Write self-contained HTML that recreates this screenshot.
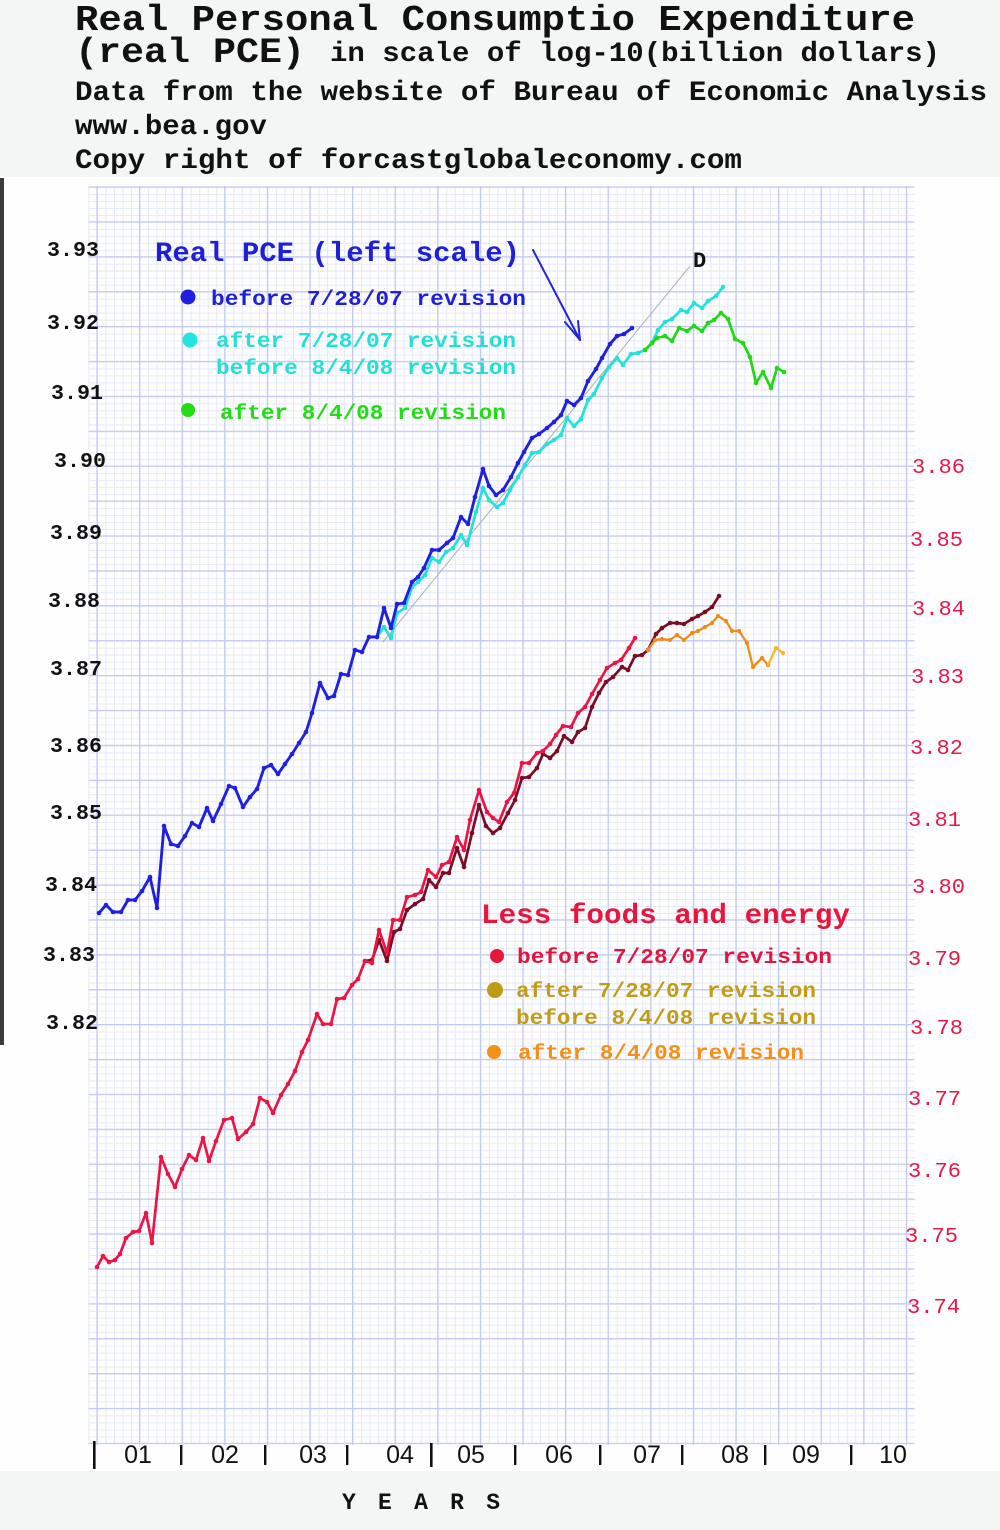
<!DOCTYPE html>
<html><head><meta charset="utf-8"><style>
html,body{margin:0;padding:0;background:#f3f6f5;}
svg{display:block;}
.mono{font-family:"Liberation Mono","Courier New",monospace;}
.sans{font-family:"Liberation Sans",Arial,sans-serif;}
</style></head><body>
<svg width="1000" height="1530" viewBox="0 0 1000 1530" xmlns="http://www.w3.org/2000/svg">
<defs>
<pattern id="minor" patternUnits="userSpaceOnUse" x="97" y="187" width="8.52" height="6.98">
<rect x="0" y="0" width="0.9" height="6.98" fill="#e4e8f8"/>
<rect x="0" y="0" width="8.52" height="0.9" fill="#e4e8f8"/>
</pattern>
<pattern id="major" patternUnits="userSpaceOnUse" x="96.4" y="186.4" width="42.6" height="34.9">
<rect x="0" y="0" width="1.2" height="34.9" fill="#c2c9f0"/>
<rect x="0" y="0" width="42.6" height="1.2" fill="#c2c9f0"/>
</pattern>
<marker id="mBlue" markerUnits="userSpaceOnUse" markerWidth="6" markerHeight="6" refX="3" refY="3"><circle cx="3" cy="3" r="2.3" fill="#2020e0"/></marker>
<marker id="mCyan" markerUnits="userSpaceOnUse" markerWidth="6" markerHeight="6" refX="3" refY="3"><circle cx="3" cy="3" r="2.3" fill="#22e2da"/></marker>
<marker id="mGreen" markerUnits="userSpaceOnUse" markerWidth="6" markerHeight="6" refX="3" refY="3"><circle cx="3" cy="3" r="2.3" fill="#22d815"/></marker>
<marker id="mRed" markerUnits="userSpaceOnUse" markerWidth="6" markerHeight="6" refX="3" refY="3"><circle cx="3" cy="3" r="2.3" fill="#ec1443"/></marker>
<marker id="mDark" markerUnits="userSpaceOnUse" markerWidth="6" markerHeight="6" refX="3" refY="3"><circle cx="3" cy="3" r="2.3" fill="#7a0c24"/></marker>
<marker id="mOrange" markerUnits="userSpaceOnUse" markerWidth="6" markerHeight="6" refX="3" refY="3"><circle cx="3" cy="3" r="2.1" fill="#f08c1a"/></marker>
<marker id="mYellow" markerUnits="userSpaceOnUse" markerWidth="6" markerHeight="6" refX="3" refY="3"><circle cx="3" cy="3" r="2.1" fill="#f4b820"/></marker>
</defs>
<rect x="0" y="0" width="1000" height="1530" fill="#f3f6f5"/>
<rect x="0" y="177" width="1000" height="1294" fill="#fefefe"/>
<rect x="0" y="178" width="4" height="867" fill="#3c3c3c"/>
<rect x="88.4" y="186.5" width="826" height="1257.5" fill="url(#minor)"/>
<rect x="88.4" y="186" width="826" height="1259" fill="url(#major)"/>

<!-- header -->
<g class="mono" font-weight="bold" fill="#111">
<text x="75" y="30" font-size="36" textLength="840" lengthAdjust="spacingAndGlyphs">Real Personal Consumptio Expenditure</text>
<text x="75" y="62" font-size="35" textLength="230" lengthAdjust="spacingAndGlyphs">(real PCE)</text>
<text x="330" y="61" font-size="28" textLength="610" lengthAdjust="spacingAndGlyphs">in scale of log-10(billion dollars)</text>
<text x="75" y="100" font-size="28" textLength="912" lengthAdjust="spacingAndGlyphs">Data from the website of Bureau of Economic Analysis</text>
<text x="75" y="134" font-size="28" textLength="192" lengthAdjust="spacingAndGlyphs">www.bea.gov</text>
<text x="75" y="168" font-size="28" textLength="667" lengthAdjust="spacingAndGlyphs">Copy right of forcastglobaleconomy.com</text>
</g>

<!-- left axis -->
<g class="mono" font-weight="bold" fill="#111" font-size="21">
<text x="47" y="256" textLength="52" lengthAdjust="spacingAndGlyphs">3.93</text>
<text x="47" y="329" textLength="52" lengthAdjust="spacingAndGlyphs">3.92</text>
<text x="51" y="399" textLength="52" lengthAdjust="spacingAndGlyphs">3.91</text>
<text x="54" y="467" textLength="52" lengthAdjust="spacingAndGlyphs">3.90</text>
<text x="50" y="539" textLength="52" lengthAdjust="spacingAndGlyphs">3.89</text>
<text x="48" y="607" textLength="52" lengthAdjust="spacingAndGlyphs">3.88</text>
<text x="50" y="675" textLength="52" lengthAdjust="spacingAndGlyphs">3.87</text>
<text x="50" y="752" textLength="52" lengthAdjust="spacingAndGlyphs">3.86</text>
<text x="50" y="819" textLength="52" lengthAdjust="spacingAndGlyphs">3.85</text>
<text x="45" y="891" textLength="52" lengthAdjust="spacingAndGlyphs">3.84</text>
<text x="43" y="961" textLength="52" lengthAdjust="spacingAndGlyphs">3.83</text>
<text x="46" y="1029" textLength="52" lengthAdjust="spacingAndGlyphs">3.82</text>
</g>

<!-- right axis -->
<g class="mono" fill="#e8174a" font-size="21">
<text x="912" y="473" textLength="53" lengthAdjust="spacingAndGlyphs">3.86</text>
<text x="910" y="546" textLength="53" lengthAdjust="spacingAndGlyphs">3.85</text>
<text x="912" y="615" textLength="53" lengthAdjust="spacingAndGlyphs">3.84</text>
<text x="911" y="683" textLength="53" lengthAdjust="spacingAndGlyphs">3.83</text>
<text x="910" y="754" textLength="53" lengthAdjust="spacingAndGlyphs">3.82</text>
<text x="908" y="826" textLength="53" lengthAdjust="spacingAndGlyphs">3.81</text>
<text x="912" y="893" textLength="53" lengthAdjust="spacingAndGlyphs">3.80</text>
<text x="908" y="965" textLength="53" lengthAdjust="spacingAndGlyphs">3.79</text>
<text x="910" y="1034" textLength="53" lengthAdjust="spacingAndGlyphs">3.78</text>
<text x="908" y="1105" textLength="53" lengthAdjust="spacingAndGlyphs">3.77</text>
<text x="908" y="1177" textLength="53" lengthAdjust="spacingAndGlyphs">3.76</text>
<text x="905" y="1242" textLength="53" lengthAdjust="spacingAndGlyphs">3.75</text>
<text x="907" y="1313" textLength="53" lengthAdjust="spacingAndGlyphs">3.74</text>
</g>

<!-- x axis -->
<g fill="#111">
<rect x="93" y="1441" width="2.6" height="28"/>
<rect x="180" y="1445" width="2.4" height="20"/>
<rect x="264" y="1445" width="2.4" height="20"/>
<rect x="346" y="1445" width="2.4" height="20"/>
<rect x="430" y="1443" width="2.6" height="24"/>
<rect x="514" y="1445" width="2.4" height="20"/>
<rect x="599" y="1445" width="2.4" height="20"/>
<rect x="681" y="1445" width="2.4" height="20"/>
<rect x="764" y="1445" width="2.4" height="20"/>
<rect x="850" y="1445" width="2.4" height="20"/>
</g>
<g class="sans" fill="#111" font-size="25" text-anchor="middle">
<text x="138" y="1463">01</text>
<text x="225" y="1463">02</text>
<text x="313" y="1463">03</text>
<text x="400" y="1463">04</text>
<text x="471" y="1463">05</text>
<text x="559" y="1463">06</text>
<text x="647" y="1463">07</text>
<text x="735" y="1463">08</text>
<text x="806" y="1463">09</text>
<text x="893" y="1463">10</text>
</g>
<text class="mono" x="342" y="1509" font-size="23" font-weight="bold" fill="#111" textLength="158" lengthAdjust="spacing">Y E A R S</text>

<!-- upper legend -->
<g class="mono" font-weight="bold">
<text x="155" y="261" font-size="28" fill="#1f1fd8" textLength="365" lengthAdjust="spacingAndGlyphs">Real PCE (left scale)</text>
<circle cx="188" cy="297" r="7.5" fill="#1f1fe0"/>
<text x="211" y="305" font-size="21" fill="#1f1fd8" textLength="315" lengthAdjust="spacingAndGlyphs">before 7/28/07 revision</text>
<circle cx="190" cy="340" r="7.5" fill="#20e6dc"/>
<text x="216" y="347" font-size="21" fill="#22e0d6" textLength="300" lengthAdjust="spacingAndGlyphs">after 7/28/07 revision</text>
<text x="216" y="374" font-size="21" fill="#22e0d6" textLength="300" lengthAdjust="spacingAndGlyphs">before 8/4/08 revision</text>
<circle cx="188" cy="410" r="7" fill="#22dd14"/>
<text x="220" y="419" font-size="21" fill="#22dd14" textLength="286" lengthAdjust="spacingAndGlyphs">after 8/4/08 revision</text>
</g>
<!-- arrow -->
<g stroke="#2525d8" stroke-width="2" fill="none" stroke-linecap="round">
<line x1="533" y1="250" x2="580" y2="340"/>
<line x1="580" y1="340" x2="565" y2="322"/>
<line x1="580" y1="340" x2="578" y2="321"/>
</g>
<text class="mono" x="693" y="267" font-size="22" font-weight="bold" fill="#111">D</text>
<line x1="383" y1="642" x2="690" y2="266" stroke="#b0b0b0" stroke-width="1"/>

<!-- lower legend -->
<g class="mono" font-weight="bold">
<text x="481" y="923" font-size="28" fill="#e8163c" textLength="369" lengthAdjust="spacingAndGlyphs">Less foods and energy</text>
<circle cx="497" cy="956" r="7" fill="#e8163c"/>
<text x="517" y="963" font-size="21" fill="#e0163c" textLength="315" lengthAdjust="spacingAndGlyphs">before 7/28/07 revision</text>
<circle cx="495" cy="990" r="8" fill="#c09a10"/>
<text x="516" y="997" font-size="21" fill="#c29c18" textLength="300" lengthAdjust="spacingAndGlyphs">after 7/28/07 revision</text>
<text x="516" y="1024" font-size="21" fill="#c29c18" textLength="300" lengthAdjust="spacingAndGlyphs">before 8/4/08 revision</text>
<circle cx="494" cy="1052" r="7" fill="#f39018"/>
<text x="518" y="1059" font-size="21" fill="#f39018" textLength="286" lengthAdjust="spacingAndGlyphs">after 8/4/08 revision</text>
</g>

<!-- series -->
<g fill="none" stroke-linejoin="round" stroke-linecap="round">
<polyline stroke="#22e2da" stroke-width="2.7" marker-start="url(#mCyan)" marker-mid="url(#mCyan)" marker-end="url(#mCyan)" points="377,637 384,627 391,638 397,613 405,608 412,587 418,582 425,575 432,558 439,562 446,552 453,548 461,535 467,545 476,512 483,488 489,500 497,507 503,503 510,490 518,477 525,465 532,453 539,452 547,444 554,440 561,435 567,418 574,426 581,419 588,400 594,394 602,378 609,367 617,358 623,365 631,354 638,353 645,350 652,343 658,330 665,322 672,319 681,310 687,312 694,303 702,308 708,301 716,296 723,287"/>
<polyline stroke="#22d815" stroke-width="2.7" marker-start="url(#mGreen)" marker-mid="url(#mGreen)" marker-end="url(#mGreen)" points="645,350 652,343 657,338 665,336 672,341 679,328 687,331 694,326 702,331 708,323 714,320 721,313 728,319 735,339 743,343 750,357 756,383 763,372 771,388 777,368 784,372"/>
<polyline stroke="#2020e0" stroke-width="2.9" marker-start="url(#mBlue)" marker-mid="url(#mBlue)" marker-end="url(#mBlue)" points="99,913 106,905 113,912 121,912 128,900 135,900 142,891 150,877 157,908 164,826 171,844 178,846 185,836 192,823 199,827 207,808 213,821 221,804 229,786 235,788 243,807 250,797 257,789 264,768 271,765 278,774 285,764 292,754 299,743 306,732 312,713 320,683 328,698 334,696 341,674 348,675 355,650 362,652 369,637 377,637 384,608 391,628 397,604 404,603 412,582 418,577 424,568 432,550 439,550 447,543 453,538 461,517 468,524 475,497 483,469 489,486 496,495 503,490 511,477 518,463 524,452 532,438 539,434 547,428 554,422 561,415 567,401 574,405 581,398 588,381 596,369 602,358 610,344 617,336 624,334 632,328"/>
<polyline stroke="#7a0c24" stroke-width="2.7" marker-start="url(#mDark)" marker-mid="url(#mDark)" marker-end="url(#mDark)" points="365,961 372,960 379,940 387,961 394,932 400,929 407,910 415,904 423,899 429,880 436,887 443,873 449,873 457,848 464,867 472,833 479,805 486,826 493,833 500,828 508,813 515,800 522,778 529,777 537,768 543,754 550,758 557,751 564,736 572,742 578,732 585,728 592,707 599,693 606,682 613,677 622,667 628,670 635,656 642,655 648,650 656,634 662,628 670,623 677,623 684,624 692,619 698,616 705,612 712,607 719,596"/>
<polyline stroke="#f08c1a" stroke-width="2.3" marker-start="url(#mOrange)" marker-mid="url(#mOrange)" marker-end="url(#mOrange)" points="648,650 655,640 662,639 670,640 677,635 684,640 692,633 698,631 705,627 712,623 718,616 726,621 732,631 739,631 747,643 753,667 762,658 768,665"/>
<polyline stroke="#f4b820" stroke-width="2.3" marker-mid="url(#mYellow)" marker-end="url(#mYellow)" points="768,665 776,648 783,653"/>
<polyline stroke="#ec1443" stroke-width="2.7" marker-start="url(#mRed)" marker-mid="url(#mRed)" marker-end="url(#mRed)" points="97,1267 103,1256 109,1262 115,1260 120,1254 126,1238 133,1232 139,1231 146,1213 152,1243 161,1157 168,1174 175,1187 182,1169 189,1155 196,1160 203,1138 209,1161 216,1141 224,1120 232,1118 238,1139 246,1132 253,1124 260,1098 267,1102 273,1113 281,1095 288,1084 295,1071 302,1052 308,1040 317,1014 323,1024 331,1024 337,999 344,998 352,985 358,979 365,961 372,963 379,930 387,953 393,920 400,920 407,897 415,895 421,892 428,870 436,877 442,865 449,862 457,837 464,850 470,820 479,790 487,812 493,818 499,822 507,802 514,793 522,763 529,763 537,753 543,751 550,744 556,735 563,726 571,727 578,713 585,707 592,694 600,680 607,668 615,663 621,660 629,648 635,638"/>
</g>
</svg>
</body></html>
